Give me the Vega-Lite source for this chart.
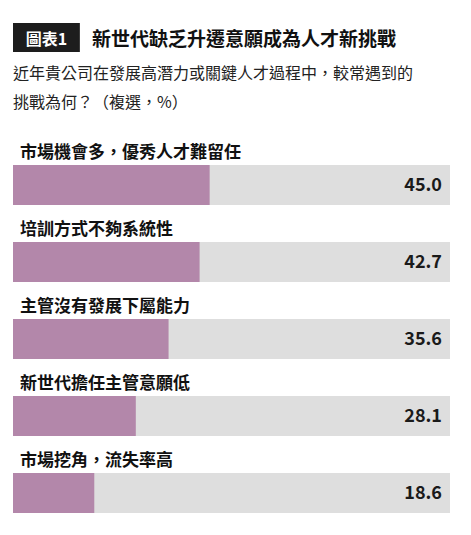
{
  "$schema": "https://vega.github.io/schema/vega-lite/v6.json",
  "padding": {"left": 13, "top": 23, "right": 21, "bottom": 0},
  "background": "white",
  "config": {"view": {"stroke": null}, "font": "Noto Sans CJK TC", "concat": {"spacing": 14}},
  "datasets": {
    "header": [{"tag": "圖表1", "title": "新世代缺乏升遷意願成為人才新挑戰"}],
    "challenges": [
      {"item": "市場機會多，優秀人才難留任", "pct": 45.0},
      {"item": "培訓方式不夠系統性", "pct": 42.7},
      {"item": "主管沒有發展下屬能力", "pct": 35.6},
      {"item": "新世代擔任主管意願低", "pct": 28.1},
      {"item": "市場挖角，流失率高", "pct": 18.6}
    ]
  },
  "vconcat": [
    {
      "data": {"name": "header"},
      "width": 437,
      "height": 29,
      "layer": [
        {
          "mark": {"type": "rect", "color": "#1d1d1d"},
          "encoding": {
            "x": {"datum": 0, "type": "quantitative", "scale": {"domain": [0, 100]}, "axis": null},
            "x2": {"datum": 15.3}
          }
        },
        {
          "mark": {"type": "text", "color": "white", "fontSize": 16, "fontWeight": "bold", "align": "center", "baseline": "middle", "dy": 2},
          "encoding": {
            "x": {"datum": 7.65, "type": "quantitative", "scale": {"domain": [0, 100]}, "axis": null},
            "text": {"field": "tag"}
          }
        },
        {
          "mark": {"type": "text", "color": "#111111", "fontSize": 19, "fontWeight": "bold", "align": "left", "baseline": "middle", "dy": 2},
          "encoding": {
            "x": {"datum": 18.1, "type": "quantitative", "scale": {"domain": [0, 100]}, "axis": null},
            "text": {"field": "title"}
          }
        }
      ]
    },
    {
      "data": {"name": "challenges"},
      "width": 437,
      "height": 385,
      "title": {
        "text": ["近年貴公司在發展高潛力或關鍵人才過程中，較常遇到的", "挑戰為何？（複選，%）"],
        "anchor": "start",
        "fontSize": 16,
        "fontWeight": "normal",
        "color": "#222222",
        "lineHeight": 29,
        "offset": 26,
        "frame": "group"
      },
      "encoding": {
        "y": {"field": "item", "type": "nominal", "sort": null, "axis": null, "scale": {"paddingInner": 0, "paddingOuter": 0}}
      },
      "layer": [
        {
          "mark": {"type": "bar", "color": "#dedede", "size": 40, "yOffset": 9.5},
          "encoding": {"x": {"datum": 100, "type": "quantitative", "scale": {"domain": [0, 100]}, "axis": null}}
        },
        {
          "mark": {"type": "bar", "color": "#b387aa", "size": 40, "yOffset": 9.5},
          "encoding": {"x": {"field": "pct", "type": "quantitative", "scale": {"domain": [0, 100]}, "axis": null}}
        },
        {
          "mark": {"type": "text", "align": "right", "baseline": "middle", "dx": -8, "yOffset": 10.5, "fontSize": 18, "fontWeight": "bold", "color": "#1a1a1a"},
          "encoding": {
            "x": {"datum": 100, "type": "quantitative", "scale": {"domain": [0, 100]}, "axis": null},
            "text": {"field": "pct", "format": ".1f"}
          }
        },
        {
          "mark": {"type": "text", "align": "left", "baseline": "alphabetic", "dx": 7, "yOffset": -18, "fontSize": 17, "fontWeight": "bold", "color": "#111111"},
          "encoding": {
            "x": {"datum": 0, "type": "quantitative", "scale": {"domain": [0, 100]}, "axis": null},
            "text": {"field": "item"}
          }
        }
      ]
    }
  ]
}
